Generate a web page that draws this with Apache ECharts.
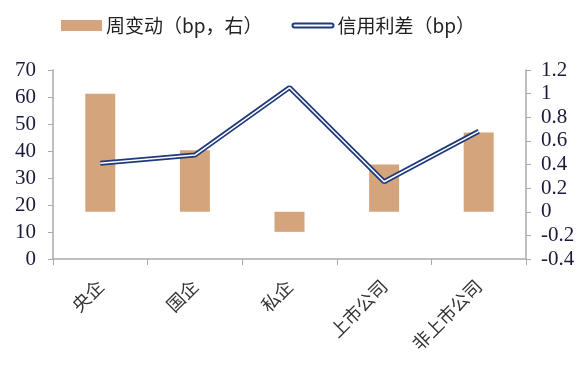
<!DOCTYPE html>
<html><head><meta charset="utf-8">
<script src="https://cdn.jsdelivr.net/npm/echarts@6/dist/echarts.min.js"></script>
<style>html,body{margin:0;padding:0;background:#fff}#c{width:588px;height:372px}</style>
</head><body><div id="c"></div>
<script>
var categories = ['央企', '国企', '私企', '上市公司', '非上市公司'];
var weeklyChange = [1.0, 0.52, -0.17, 0.40, 0.67];
var creditSpread = [35.5, 38.5, 63.5, 28.6, 47.3];
var barName = '周变动（bp，右）';
var lineName = '信用利差（bp）';

var chart = echarts.init(document.getElementById('c'));
var axisLabelStyle = {color: '#1a1a3a', fontFamily: 'Liberation Serif', fontSize: 21};
chart.setOption({
  animation: false,
  backgroundColor: '#fff',
  grid: {left: 53, right: 62, top: 70, bottom: 113},
  legend: {
    top: 11, left: 56, itemWidth: 41, itemHeight: 11, itemGap: 29,
    textStyle: {fontFamily: 'Noto Sans CJK SC', fontSize: 19, color: '#222', padding: [0, 0, 0, -1]},
    data: [
      {name: barName, icon: 'rect'},
      {name: lineName, icon: 'path://M2,3 L38,3 A2,2 0 0 1 38,7 L2,7 A2,2 0 0 1 2,3 Z',
       itemStyle: {color: '#fff', borderColor: '#1f3a7a', borderWidth: 2}}
    ]
  },
  xAxis: {
    type: 'category', data: categories,
    axisLine: {lineStyle: {color: '#aaa', width: 1.5}},
    axisTick: {show: true, length: 6, lineStyle: {color: '#aaa'}},
    axisLabel: {rotate: 45, fontFamily: 'Noto Sans CJK SC', fontSize: 18, color: '#333', margin: 24}
  },
  yAxis: [
    {type: 'value', min: 0, max: 70, interval: 10, position: 'left',
     axisLine: {show: true, lineStyle: {color: '#aaa', width: 1.5}},
     axisTick: {show: true, length: 5, lineStyle: {color: '#aaa'}},
     splitLine: {show: false},
     axisLabel: Object.assign({margin: 17}, axisLabelStyle)},
    {type: 'value', min: -0.4, max: 1.2, interval: 0.2, position: 'right',
     axisLine: {show: true, lineStyle: {color: '#aaa', width: 1.5}},
     axisTick: {show: true, length: 5, lineStyle: {color: '#aaa'}},
     splitLine: {show: false},
     axisLabel: Object.assign({margin: 15}, axisLabelStyle, {
       formatter: function (v) { return String(Math.round(v * 10) / 10); }
     })}
  ],
  series: [
    {name: barName, type: 'bar', yAxisIndex: 1, data: weeklyChange, barWidth: 30,
     itemStyle: {color: '#d4a47c'}},
    {name: lineName, type: 'line', yAxisIndex: 0, data: creditSpread,
     symbol: 'none', lineStyle: {color: '#1f3a7a', width: 5}, z: 3},
    {name: 'inner', type: 'line', yAxisIndex: 0, data: creditSpread,
     symbol: 'none', lineStyle: {color: '#fff', width: 1.5}, z: 4, silent: true}
  ]
});
</script></body></html>
